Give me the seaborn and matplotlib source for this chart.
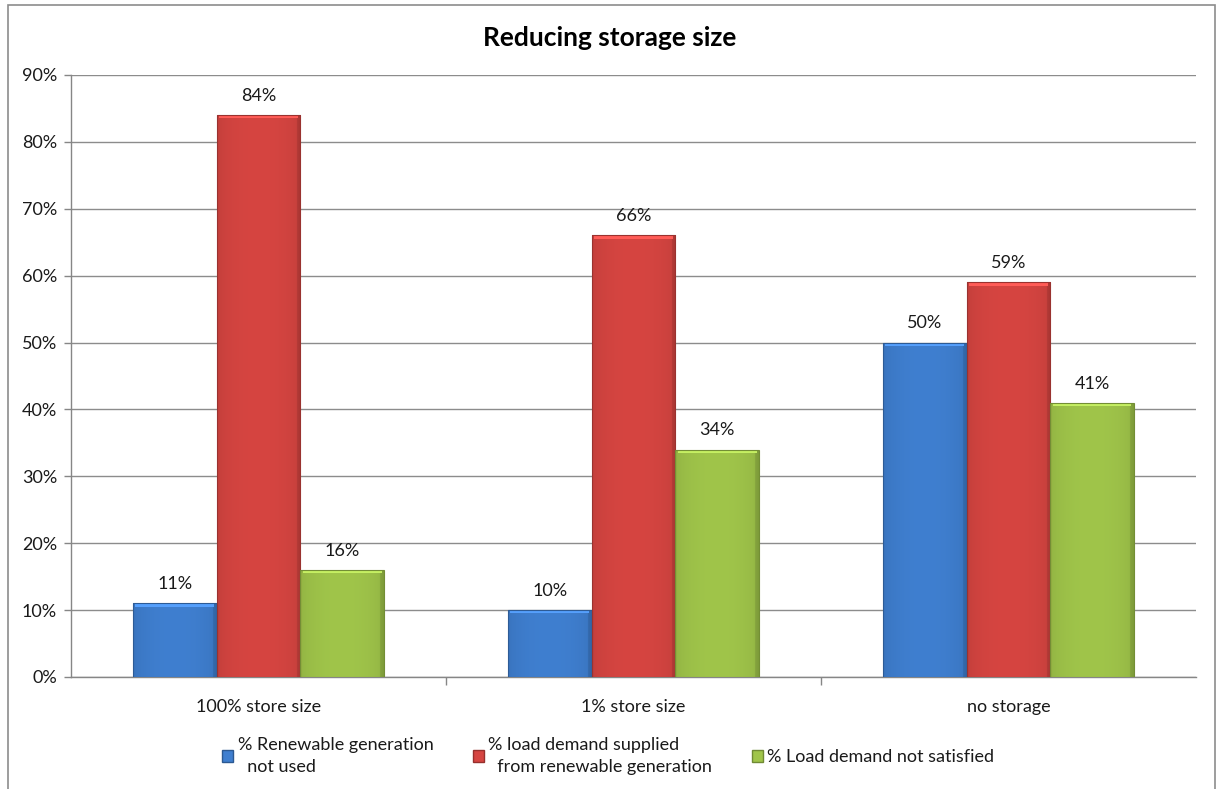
import numpy as np
import pandas as pd
import matplotlib
matplotlib.use("Agg")
import matplotlib.pyplot as plt
import seaborn as sns
from matplotlib.colors import to_rgb
from matplotlib.patches import Rectangle
from matplotlib.ticker import FuncFormatter

# ---- data -------------------------------------------------------------
categories = ["100% store size", "1% store size", "no storage"]
series_names = [
    "% Renewable generation\n  not used",
    "% load demand supplied\n  from renewable generation",
    "% Load demand not satisfied",
]
renewable_not_used = [11, 10, 50]
load_supplied = [84, 66, 59]
load_not_satisfied = [16, 34, 41]
y_ticks = [0, 10, 20, 30, 40, 50, 60, 70, 80, 90]
series_colors = ["#3F7FD0", "#D64541", "#A0C54A"]

df = pd.DataFrame({
    "category": categories * 3,
    "series": [series_names[0]] * 3 + [series_names[1]] * 3 + [series_names[2]] * 3,
    "value": renewable_not_used + load_supplied + load_not_satisfied,
})

# ---- style ------------------------------------------------------------
sns.set_theme(style="white")
plt.rcParams["font.family"] = ["Lato", "DejaVu Sans"]
FS = 13

fig = plt.figure(figsize=(12.24, 7.89), dpi=100)
ax = fig.add_axes([0.058, 0.142, 0.919, 0.763])

sns.barplot(data=df, x="category", y="value", hue="series",
            order=categories, hue_order=series_names,
            palette=series_colors, width=0.67, saturation=1,
            edgecolor="none", linewidth=0, ax=ax, legend=False, zorder=3)

# bevelled look: soft horizontal shading clipped to each bar
def shade(color, n=64):
    base = np.array(to_rgb(color))
    t = np.linspace(0, 1, n)
    prof = 0.9 + 0.1 * np.sin(np.pi * t) ** 0.5
    prof[-3:] *= 0.88
    img = np.clip(base[None, :] * prof[:, None], 0, 1)
    return img[None, :, :]

for cont, col in zip(ax.containers, series_colors):
    for bar in cont:
        x0, y0 = bar.get_x(), bar.get_y()
        w, h = bar.get_width(), bar.get_height()
        im = ax.imshow(shade(col), extent=[x0, x0 + w, y0, y0 + h],
                       aspect="auto", zorder=3.1, interpolation="bilinear")
        im.set_clip_path(bar)
        hl = np.clip(np.array(to_rgb(col)) * 1.15 + 0.05, 0, 1)
        ax.add_patch(Rectangle((x0 + w * 0.03, y0 + h - 0.5), w * 0.94, 0.5,
                               facecolor=hl, edgecolor="none", zorder=3.2))
        dark = np.array(to_rgb(col)) * 0.72
        ax.add_patch(Rectangle((x0, y0), w, h, facecolor="none",
                               edgecolor=dark, linewidth=0.8, zorder=3.3))

# value labels
for cont, vals in zip(ax.containers, [renewable_not_used, load_supplied, load_not_satisfied]):
    ax.bar_label(cont, labels=[f"{v:.0f}%" for v in vals], padding=8,
                 fontsize=FS, color="#1a1a1a", zorder=5)

ax.set_xlim(-0.5, 2.5)
ax.set_ylim(0, 90)
ax.set_yticks(y_ticks)
ax.yaxis.set_major_formatter(FuncFormatter(lambda v, p: f"{v:.0f}%"))
ax.grid(axis="y", color="#8c8c8c", linewidth=1, zorder=0)
ax.set_axisbelow(True)
ax.set_xlabel("")
ax.set_ylabel("")

for s in ["top", "right"]:
    ax.spines[s].set_visible(False)
for s in ["left", "bottom"]:
    ax.spines[s].set_color("#868686")
    ax.spines[s].set_linewidth(1)

ax.tick_params(axis="y", which="major", left=True, length=5, width=1,
               color="#868686", labelsize=FS, labelcolor="#1a1a1a", pad=5)
ax.tick_params(axis="x", which="major", bottom=False, labelsize=FS,
               labelcolor="#1a1a1a", pad=10)
ax.set_xticks([0.5, 1.5], minor=True)
ax.tick_params(axis="x", which="minor", bottom=True, length=6, width=1,
               color="#868686")

fig.suptitle("Reducing storage size", x=0.498, y=0.952, va="center",
             fontsize=19, fontweight="bold", color="#000000")

# legend below the plot
handles = [Rectangle((0, 0), 1, 1, facecolor=c, edgecolor=np.array(to_rgb(c)) * 0.7)
           for c in series_colors]
fig.legend(handles, series_names, loc="upper center", bbox_to_anchor=(0.497, 0.087),
           ncol=3, frameon=False, fontsize=FS, handlelength=0.6, handleheight=0.6,
           handletextpad=0.25, columnspacing=2.2, labelcolor="#1a1a1a",
           labelspacing=0.5)
for t in fig.legends[0].get_texts():
    t.set_linespacing(1.5)

# chart border
fig.patches.append(Rectangle((8 / 1224, -0.05), (1215 - 8) / 1224, 1 - 5 / 789 + 0.05,
                             transform=fig.transFigure, facecolor="none",
                             edgecolor="#8c8c8c", linewidth=1.2))

fig.savefig("out.png", dpi=100, facecolor="white")
